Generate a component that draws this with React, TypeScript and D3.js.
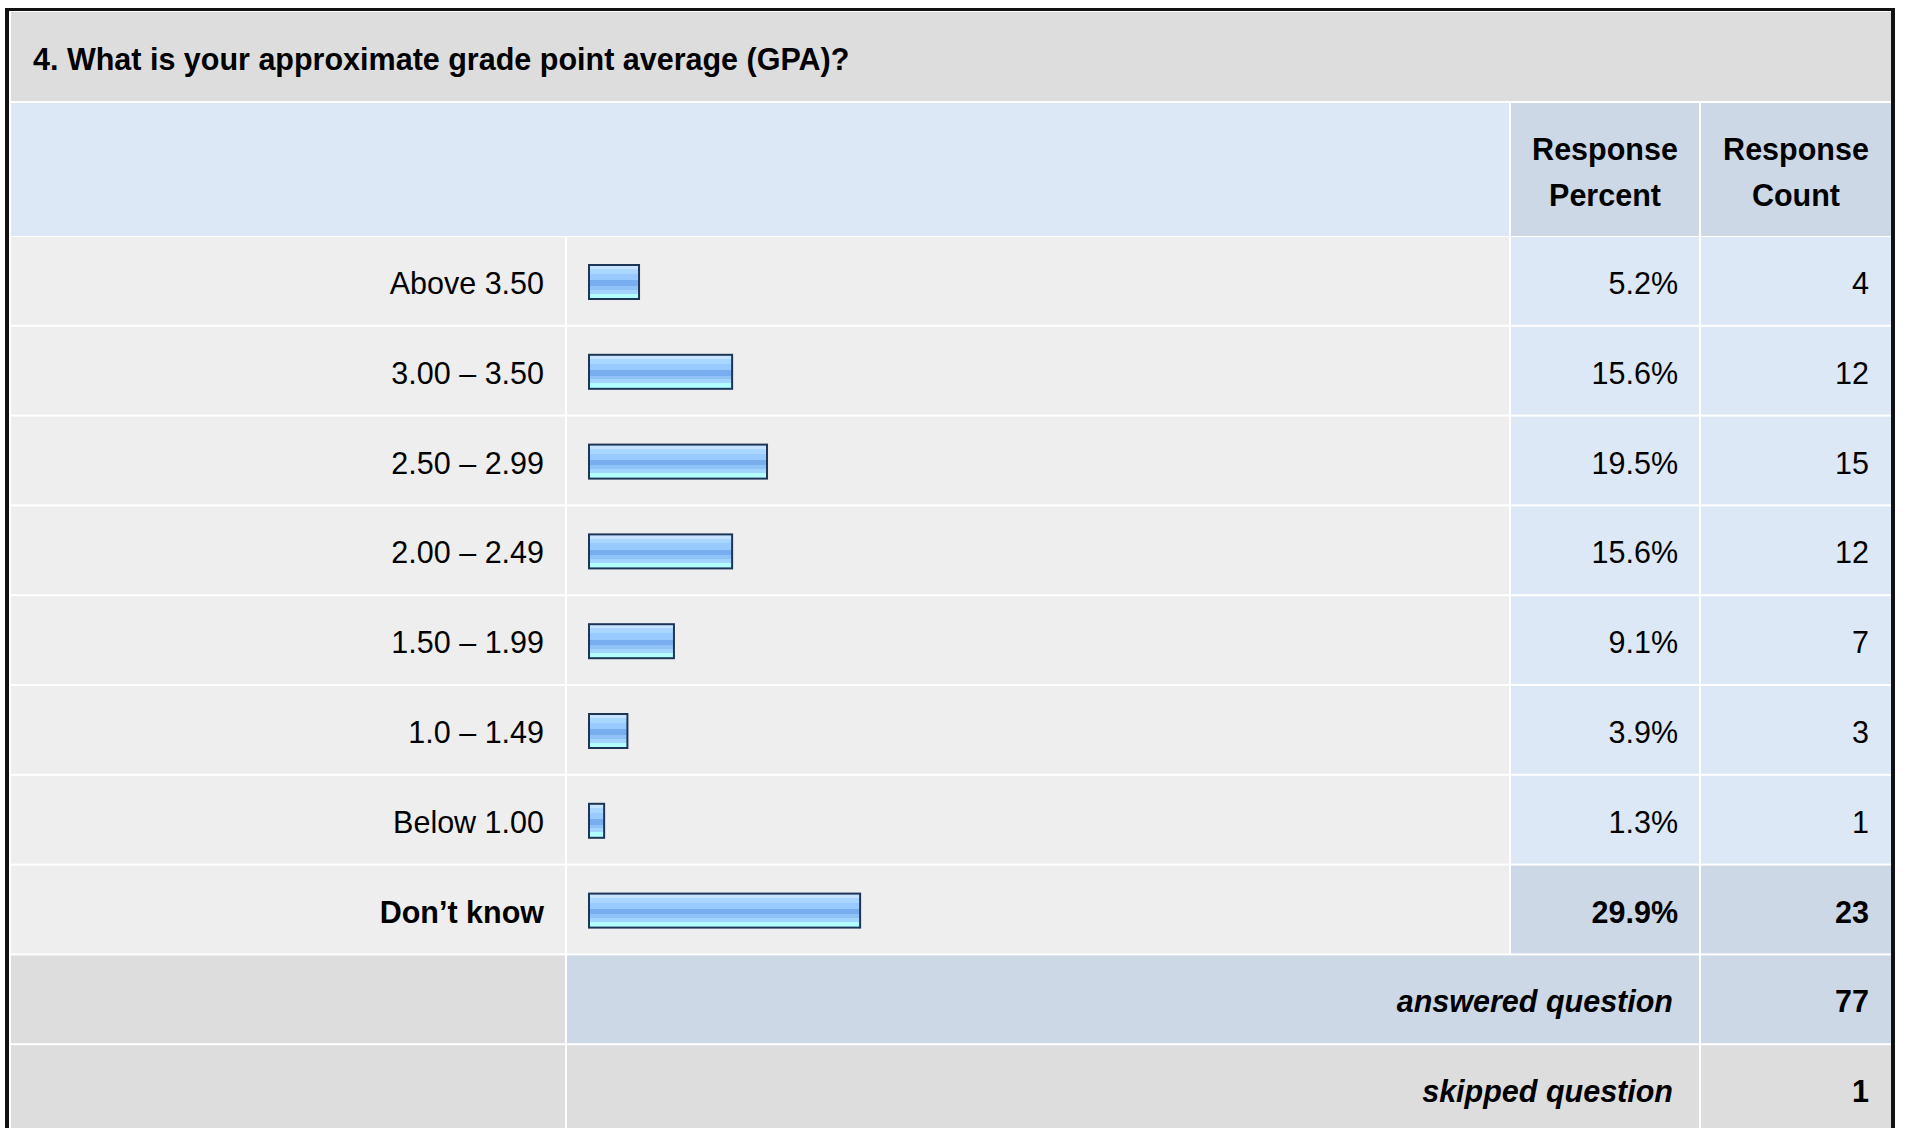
import * as d3 from "d3";

const W = 1907;
const H = 1128;

const TITLE = "4. What is your approximate grade point average (GPA)?";
const categories = ["Above 3.50", "3.00 – 3.50", "2.50 – 2.99", "2.00 – 2.49", "1.50 – 1.99", "1.0 – 1.49", "Below 1.00", "Don’t know"];
const percents = [5.2, 15.6, 19.5, 15.6, 9.1, 3.9, 1.3, 29.9];
const counts = [4, 12, 15, 12, 7, 3, 1, 23];
const summaryLabels = ["answered question", "skipped question"];
const summaryValues = [77, 1];

const FONT = "'Liberation Sans', Arial, Helvetica, sans-serif";
const FS = 30.5;

// column edges
const C0 = 11, C1 = 567, C2 = 1511, C3 = 1701, CR = 1891;
const GAP = 2;

const bandStops: [number, string][] = [
  [0, "#c6e4ff"],
  [0.1, "#a9d7ff"],
  [0.25, "#98caff"],
  [0.45, "#78aeef"],
  [0.62, "#8fc2f7"],
  [0.74, "#a2d4ff"],
  [0.86, "#b2feff"],
];

export default function App() {
  const nRows = categories.length + summaryLabels.length;
  const rowY = d3.scaleLinear().domain([0, nRows]).range([237, 237 + 89.8 * nRows]);
  const barX = d3.scaleLinear().domain([0, 100]).range([0, 895]);
  const fmt = d3.format(".1f");
  const last = categories.length - 1;

  const rows = categories.map((cat, i) => {
    const top = rowY(i);
    const h = rowY(i + 1) - top - GAP;
    const mid = top + h / 2;
    const base = mid + 13;
    const bold = i === last;
    const pctFill = bold ? "#ccd8e6" : "#dce8f5";
    const bw = barX(percents[i]) + 5.5;
    return (
      <g key={cat}>
        <rect x={C0} y={top} width={C1 - GAP - C0} height={h} fill="#eeeeee" />
        <rect x={C1} y={top} width={C2 - GAP - C1} height={h} fill="#eeeeee" />
        <rect x={C2} y={top} width={C3 - GAP - C2} height={h} fill={pctFill} />
        <rect x={C3} y={top} width={CR - C3} height={h} fill={pctFill} />
        <text x={C1 - GAP - 21} y={base} textAnchor="end" fontWeight={bold ? "bold" : "normal"}>{cat}</text>
        <rect x={588} y={top + 27} width={bw} height={36} fill="#1d3658" />
        <rect x={590} y={top + 29} width={bw - 4} height={32} fill="url(#barGrad)" />
        <text x={C3 - GAP - 21} y={base} textAnchor="end" fontWeight={bold ? "bold" : "normal"}>{fmt(percents[i])}%</text>
        <text x={CR - 22} y={base} textAnchor="end" fontWeight={bold ? "bold" : "normal"}>{counts[i]}</text>
      </g>
    );
  });

  const summary = summaryLabels.map((lab, j) => {
    const i = categories.length + j;
    const top = rowY(i);
    const h = rowY(i + 1) - top - GAP;
    const base = top + h / 2 + 13;
    const fill = j === 0 ? "#ccd8e6" : "#dddddd";
    return (
      <g key={lab}>
        <rect x={C0} y={top} width={C1 - GAP - C0} height={h} fill="#dddddd" />
        <rect x={C1} y={top} width={C3 - GAP - C1} height={h} fill={fill} />
        <rect x={C3} y={top} width={CR - C3} height={h} fill={fill} />
        <text x={C3 - GAP - 26} y={base} textAnchor="end" fontWeight="bold" fontStyle="italic">{lab}</text>
        <text x={CR - 22} y={base} textAnchor="end" fontWeight="bold">{summaryValues[j]}</text>
      </g>
    );
  });

  return (
    <svg width={W} height={H} viewBox={`0 0 ${W} ${H}`} style={{ position: "absolute", left: 0, top: 0, display: "block" }} fontFamily={FONT} fontSize={FS}>
      <defs>
        <linearGradient id="barGrad" x1="0" y1="0" x2="0" y2="1">
          {bandStops.flatMap(([off, col], k) => {
            const end = k < bandStops.length - 1 ? bandStops[k + 1][0] : 1;
            return [
              <stop key={`a${k}`} offset={off} stopColor={col} />,
              <stop key={`b${k}`} offset={end} stopColor={col} />,
            ];
          })}
        </linearGradient>
      </defs>
      <rect width={W} height={H} fill="#ffffff" />
      <rect x={5} y={8} width={1890} height={H} fill="#111111" />
      <rect x={9} y={11} width={CR - 9} height={H} fill="#ffffff" />
      {/* title */}
      <rect x={C0} y={12} width={CR - C0} height={89} fill="#dddddd" />
      <text x={33} y={70} fontWeight="bold">{TITLE}</text>
      {/* header */}
      <rect x={C0} y={103} width={C2 - GAP - C0} height={133} fill="#dce8f5" />
      <rect x={C2} y={103} width={C3 - GAP - C2} height={133} fill="#ccd8e6" />
      <rect x={C3} y={103} width={CR - C3} height={133} fill="#ccd8e6" />
      <text x={(C2 + C3 - GAP) / 2} textAnchor="middle" fontWeight="bold">
        <tspan x={(C2 + C3 - GAP) / 2} y={160}>Response</tspan>
        <tspan x={(C2 + C3 - GAP) / 2} y={206}>Percent</tspan>
      </text>
      <text x={(C3 + CR) / 2} textAnchor="middle" fontWeight="bold">
        <tspan x={(C3 + CR) / 2} y={160}>Response</tspan>
        <tspan x={(C3 + CR) / 2} y={206}>Count</tspan>
      </text>
      {rows}
      {summary}
    </svg>
  );
}
